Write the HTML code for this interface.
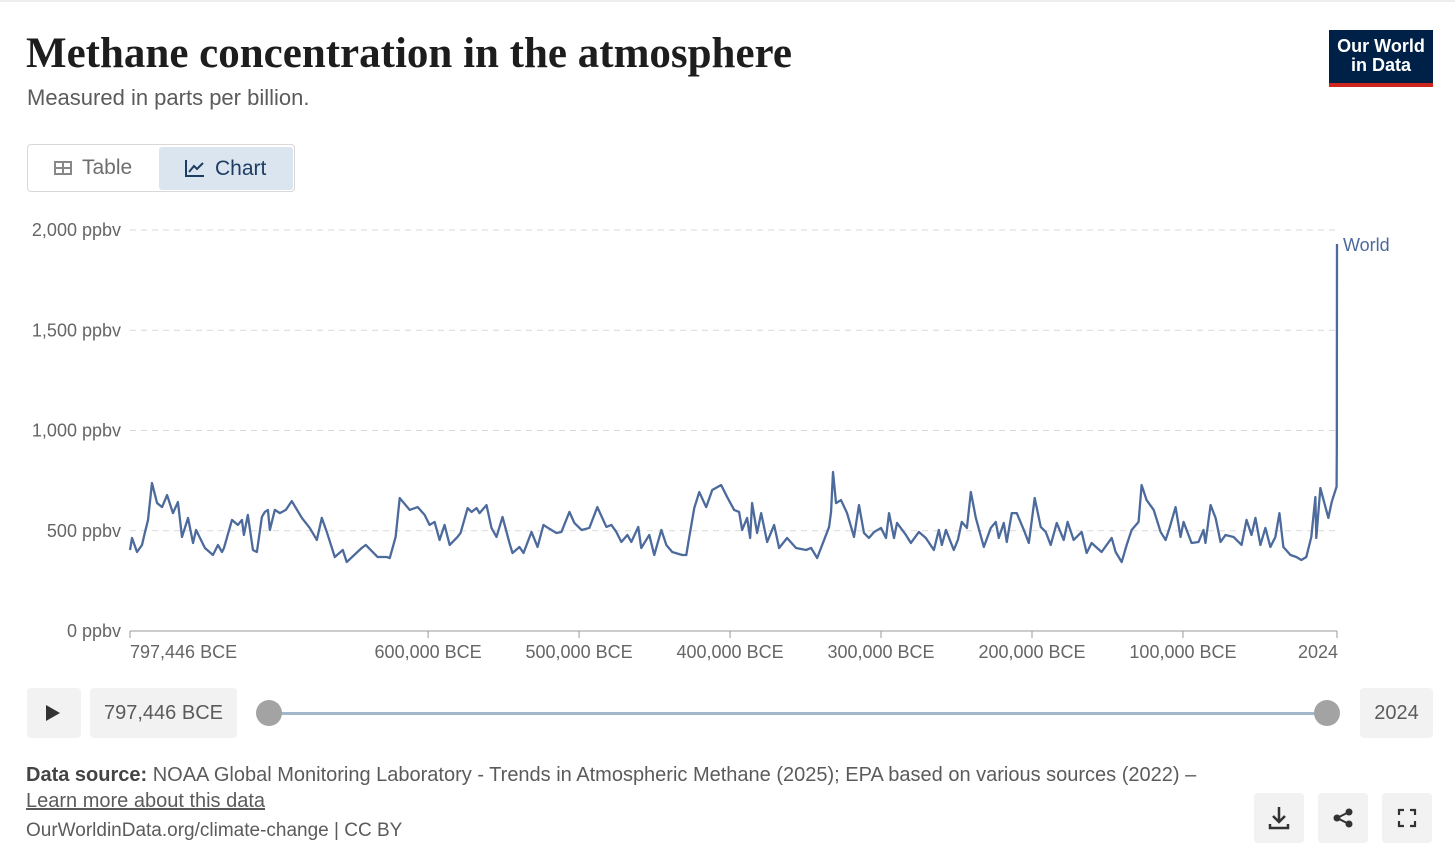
<!DOCTYPE html>
<html><head><meta charset="utf-8"><style>
body{margin:0;width:1455px;height:867px;background:#fff;font-family:"Liberation Sans",sans-serif;position:relative;overflow:hidden}
.abs{position:absolute}
.btn{background:#f2f2f2;border-radius:4px}
</style></head><body>
<div class="abs" style="left:0;top:0;width:1455px;height:2px;background:#eee"></div>
<div class="abs" style="left:26px;top:29px;font-family:'Liberation Serif',serif;font-weight:bold;font-size:43px;color:#1d1d1d">Methane concentration in the atmosphere</div>
<div class="abs" style="left:27px;top:85px;font-size:22px;color:#5b5b5b">Measured in parts per billion.</div>
<div class="abs" style="left:1329px;top:30px;width:104px;background:#002147;border-bottom:4px solid #ce261e;color:#fff;font-size:18px;font-weight:bold;line-height:19px;text-align:center;padding-top:7px;box-sizing:content-box;height:46px">Our World<br>in Data</div>
<div class="abs" style="left:27px;top:144px;width:268px;height:48px;border:1px solid #d8d8d8;border-radius:4px;box-sizing:border-box"></div>
<div class="abs" style="left:54px;top:156px;font-size:21px;color:#6e6e6e"><span style="display:inline-block;width:18px;height:14px;border:2px solid #888;box-sizing:border-box;vertical-align:-1px;margin-right:10px;background:linear-gradient(#888,#888) 0 4px/100% 2px no-repeat,linear-gradient(#888,#888) 6px 0/2px 100% no-repeat"></span>Table</div>
<div class="abs" style="left:159px;top:147px;width:134px;height:43px;background:#dbe5f0;border-radius:3px;font-size:21px;color:#1d3d63;line-height:43px;box-sizing:border-box;padding-left:26px"><svg width="20" height="18" style="vertical-align:-2px;margin-right:10px"><path d="M1 1V17H19" stroke="#1d3d63" stroke-width="2" fill="none"/><path d="M4 13L9 7L12 10L18 4" stroke="#1d3d63" stroke-width="2" fill="none"/></svg>Chart</div>

<svg id="chart" class="abs" style="left:0;top:0" width="1455" height="680"></svg>

<div class="abs btn" style="left:27px;top:688px;width:54px;height:50px"><div style="position:absolute;left:19px;top:17px;border-left:14px solid #333;border-top:8px solid transparent;border-bottom:8px solid transparent"></div></div>
<div class="abs btn" style="left:90px;top:688px;width:147px;height:50px;line-height:50px;text-align:center;font-size:20px;color:#5b5b5b">797,446 BCE</div>
<div class="abs" style="left:269px;top:712px;width:1058px;height:3px;background:#a4b6c9"></div>
<div class="abs" style="left:256px;top:700px;width:26px;height:26px;border-radius:50%;background:#a3a3a3"></div>
<div class="abs" style="left:1314px;top:700px;width:26px;height:26px;border-radius:50%;background:#a3a3a3"></div>
<div class="abs btn" style="left:1360px;top:688px;width:73px;height:50px;line-height:50px;text-align:center;font-size:20px;color:#5b5b5b">2024</div>

<div class="abs" style="left:26px;top:764px;font-size:20px;color:#5b5b5b"><b style="color:#444">Data source:</b> NOAA Global Monitoring Laboratory - Trends in Atmospheric Methane (2025); EPA based on various sources (2022) –</div>
<div class="abs" style="left:26px;top:790px;font-size:20px;color:#5b5b5b;text-decoration:underline">Learn more about this data</div>
<div class="abs" style="left:26px;top:820px;font-size:19px;color:#5b5b5b">OurWorldinData.org/climate-change | CC BY</div>
<div class="abs btn" style="left:1254px;top:793px;width:50px;height:50px"><svg width="50" height="50"><path d="M25 14V29M19 23L25 29L31 23M16 31V35H34V31" stroke="#333" stroke-width="2.5" fill="none"/></svg></div>
<div class="abs btn" style="left:1318px;top:793px;width:50px;height:50px"><svg width="50" height="50"><circle cx="31" cy="19" r="3.5" fill="#333"/><circle cx="19" cy="25" r="3.5" fill="#333"/><circle cx="31" cy="31" r="3.5" fill="#333"/><path d="M31 19L19 25L31 31" stroke="#333" stroke-width="2" fill="none"/></svg></div>
<div class="abs btn" style="left:1382px;top:793px;width:50px;height:50px"><svg width="50" height="50"><path d="M17 22V17H22M28 17H33V22M33 28V33H28M22 33H17V28" stroke="#333" stroke-width="2.2" fill="none"/></svg></div>

<script>
const years=[-797446,-796100,-792800,-789500,-787500,-785500,-782900,-779500,-776200,-772900,-769000,-765700,-763000,-759000,-755700,-753700,-747800,-742500,-739200,-736500,-735200,-729900,-726000,-723300,-722000,-719400,-716000,-713400,-710100,-708100,-706100,-704800,-701500,-698200,-694200,-690300,-683600,-678400,-673700,-670400,-667100,-661800,-656500,-653900,-644000,-641300,-633400,-627400,-625400,-621500,-618800,-612200,-606900,-602300,-599000,-595700,-592400,-589100,-585700,-580500,-578500,-573800,-571200,-567900,-565900,-561300,-558000,-554700,-550700,-546100,-544100,-539500,-536800,-531500,-527500,-523600,-521600,-515000,-511700,-506400,-503100,-498400,-493200,-487900,-481900,-478600,-475300,-472000,-468000,-465400,-460800,-458800,-453500,-450200,-445500,-442200,-438300,-431700,-429000,-427000,-423700,-420400,-415800,-411800,-405900,-401900,-397300,-394000,-392000,-388700,-386700,-385400,-382100,-379400,-375400,-370800,-367500,-362200,-356300,-349600,-346300,-342300,-337700,-334400,-333100,-331800,-329800,-326500,-322500,-317900,-314600,-311300,-308000,-304600,-300000,-296700,-294700,-291400,-289400,-283500,-280200,-274900,-270300,-265000,-261700,-259700,-257000,-251800,-249100,-246500,-243100,-240500,-237200,-231900,-227300,-224000,-222000,-218700,-216700,-213400,-210100,-205400,-202100,-198200,-194200,-190900,-187600,-183600,-179000,-176400,-172400,-167100,-163800,-160500,-153900,-147200,-144600,-140600,-137300,-134000,-129400,-127400,-124100,-119400,-114800,-111500,-108900,-104900,-101600,-99600,-94300,-89700,-86400,-85100,-81700,-78400,-75100,-71800,-66500,-61200,-57900,-54600,-52000,-48700,-45400,-42100,-38800,-36100,-33500,-28800,-24900,-21600,-18300,-15000,-12300,-11700,-9000,-3700,-1500,1750,1900,1990,2024];
const values=[404,464,394,429,494,554,738,638,618,678,588,643,469,564,439,504,414,379,429,394,414,554,529,554,479,579,404,394,569,594,604,504,604,588,604,648,564,514,454,564,494,369,404,344,414,429,369,369,364,469,663,604,618,579,529,544,454,529,429,469,489,613,594,613,588,628,514,469,569,439,389,419,389,494,419,529,519,489,494,594,539,504,514,618,519,529,494,444,479,444,519,414,479,379,504,429,394,379,379,469,613,693,618,703,728,668,604,594,504,564,464,638,489,588,444,529,414,464,414,404,414,364,454,519,594,793,638,653,588,469,628,489,464,494,514,464,588,464,539,479,439,494,464,404,504,429,504,404,454,544,514,693,564,419,514,544,464,539,444,588,588,504,439,663,519,494,429,539,454,544,454,494,389,439,394,464,394,344,429,504,544,728,653,604,494,454,514,618,469,544,439,444,504,439,628,564,444,479,469,429,554,479,564,429,514,419,469,588,419,379,369,354,369,469,668,464,713,564,643,720,900,1700,1930];
const yTicks=[0,500,1000,1500,2000];
const yTickLabels=["0 ppbv","500 ppbv","1,000 ppbv","1,500 ppbv","2,000 ppbv"];
const xTicks=[-797446,-600000,-500000,-400000,-300000,-200000,-100000,2024];
const xTickLabels=["797,446 BCE","600,000 BCE","500,000 BCE","400,000 BCE","300,000 BCE","200,000 BCE","100,000 BCE","2024"];
const seriesName="World";

const NS="http://www.w3.org/2000/svg";
const svg=document.getElementById('chart');
const X0=130,X1=1337,Y0=631,Y1=230;
const xMin=-797446,xMax=2024,yMax=2000;
const xs=v=>X0+(v-xMin)/(xMax-xMin)*(X1-X0);
const ys=v=>Y0-v/yMax*(Y0-Y1);
function mk(tag,attrs){const e=document.createElementNS(NS,tag);for(const k in attrs)e.setAttribute(k,attrs[k]);svg.appendChild(e);return e;}
yTicks.forEach((t,i)=>{
  if(t>0){const g=mk('line',{x1:X0,x2:X1,y1:ys(t),y2:ys(t),stroke:'#d9d9d9','stroke-dasharray':'6,5'});
  
  }
  const l=mk('text',{x:121,y:ys(t)+6,'text-anchor':'end','font-size':'18','fill':'#666','font-family':'Liberation Sans, sans-serif'});
  l.textContent=yTickLabels[i];
  
  
});
const ax=mk('line',{x1:X0,x2:X1,y1:Y0,y2:Y0,stroke:'#999'});


xTicks.forEach((t,i)=>{
  const x=xs(t);
  const tk=mk('line',{x1:x,x2:x,y1:Y0,y2:Y0+7,stroke:'#999'});
  
  
  let anchor='middle';
  if(i===0)anchor='start';
  if(i===xTicks.length-1)anchor='end';
  const l=mk('text',{x:i===xTicks.length-1?x+1:x,y:Y0+27,'text-anchor':anchor,'font-size':'18','fill':'#666','font-family':'Liberation Sans, sans-serif'});
  l.textContent=xTickLabels[i];
  
  
});
const d=years.map((y,i)=>(i?'L':'M')+xs(y).toFixed(2)+' '+ys(values[i]).toFixed(2)).join('');
const p=mk('path',{d:d,fill:'none',stroke:'#4c6a9c','stroke-width':'2.3','stroke-linejoin':'round'});


const lab=mk('text',{x:X1+6,y:ys(values[values.length-1])+7,'font-size':'18','fill':'#4c6a9c','font-family':'Liberation Sans, sans-serif'});
lab.textContent=seriesName;


</script>
</body></html>
